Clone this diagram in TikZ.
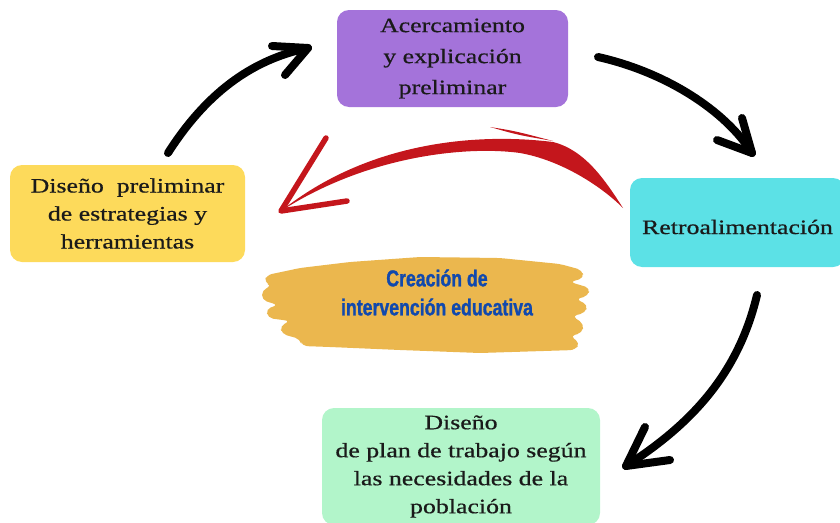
\documentclass[tikz,border=0pt]{standalone}
\usepackage{fontspec}
\setmainfont{Liberation Serif}[FakeStretch=1.26, FakeBold=0.6]
\newfontfamily\brushfont{Liberation Sans}[FakeStretch=0.77, BoldFeatures={FakeBold=1.2}]
\definecolor{purplec}{HTML}{A473DA}
\definecolor{yellowc}{HTML}{FDDA5B}
\definecolor{cyanc}{HTML}{5CE1E6}
\definecolor{greenc}{HTML}{B2F5CA}
\definecolor{orangec}{HTML}{EBB74E}
\definecolor{bluec}{HTML}{1149AD}
\definecolor{redc}{HTML}{C4161C}
\definecolor{textc}{HTML}{1A1A1A}
\tikzset{
  box/.style={rounded corners=12pt, inner sep=0pt, text=textc, align=center,
    font=\fontsize{20.5}{28}\selectfont},
  boxtext/.style={inner sep=0pt, text=textc, align=center,
    font=\fontsize{20.5}{28}\selectfont},
  blackarrow/.style={line width=8pt, line cap=round, line join=round, black},
  redhead/.style={line width=5.5pt, line cap=round, line join=round, redc},
}
\begin{document}
\begin{tikzpicture}[x=1pt,y=-1pt]
\useasboundingbox (0,0) rectangle (840,522);

% boxes
\node[box, fill=purplec, minimum width=231pt, minimum height=97pt,
  font=\fontsize{20.5}{31}\selectfont] (acerc) at (452.5,58.5)
  {Acercamiento\\y explicación\\preliminar};
\node[box, fill=yellowc, minimum width=235pt, minimum height=97pt] (disen) at (127.5,213.5)
  {Diseño~ preliminar\\de estrategias y\\herramientas};
\node[box, fill=cyanc, minimum width=215pt, minimum height=89pt] (retro) at (737.5,222.5) {};
\node[boxtext] (retrotxt) at (737.5,227) {Retroalimentación};
\node[box, fill=greenc, minimum width=278pt, minimum height=117pt] (plan) at (461,466.5)
  {Diseño\\de plan de trabajo según\\las necesidades de la\\población};

% brush stroke
\fill[orangec, rounded corners=5pt]
  (300,268) -- (350,262) -- (420,257) -- (500,258) -- (560,264) -- (582,270)
  -- (584,278) -- (570,282) -- (590,288) -- (588,296) -- (576,299) -- (588,305)
  -- (585,313) -- (572,316) -- (584,324) -- (582,333) -- (570,336) -- (580,343)
  -- (575,350) -- (480,353) -- (400,350) -- (330,347)
  -- (302,346) -- (300,339) -- (282,334) -- (280,326) -- (290,321)
  -- (268,318) -- (266,309) -- (278,305) -- (262,300) -- (262,290) -- (272,286)
  -- (264,282) -- (267,275) -- (286,271) -- cycle;
\node[font=\brushfont\bfseries\fontsize{23}{29}\selectfont, text=bluec, align=center]
  (creac) at (437,292.5) {Creación de\\intervención educativa};

% black arrows
\coordinate (a1s) at (168,153); \coordinate (a1t) at (308,48);
\draw[blackarrow] (a1s) .. controls (205,95) and (250,60) .. (a1t);
\draw[blackarrow] (272,46) -- (a1t) -- (285,75);

\coordinate (a2s) at (598,57); \coordinate (a2t) at (752,153);
\draw[blackarrow] (a2s) .. controls (665,72) and (725,110) .. (a2t);
\draw[blackarrow] (742,118) -- (a2t) -- (717,140);

\coordinate (a3s) at (757,295); \coordinate (a3t) at (626,466);
\draw[blackarrow] (a3s) .. controls (738,375) and (690,425) .. (a3t);
\draw[blackarrow] (645,427) -- (a3t) -- (670,460);

% red arrow
\coordinate (rs) at (623,208); \coordinate (rt) at (281,211);
\fill[redc] (rs) .. controls (605,180) and (585,150) .. (553,142)
  .. controls (480,133) and (370,140) .. (rt)
  .. controls (370,154) and (470,146) .. (520,153)
  .. controls (560,160) and (600,185) .. (rs) -- cycle;
\fill[redc] (490,127) .. controls (515,131) .. (553,141)
  .. controls (518,135) .. (490,127) -- cycle;
\draw[redhead] (326,138) -- (rt) -- (347,201);
\end{tikzpicture}
\end{document}
